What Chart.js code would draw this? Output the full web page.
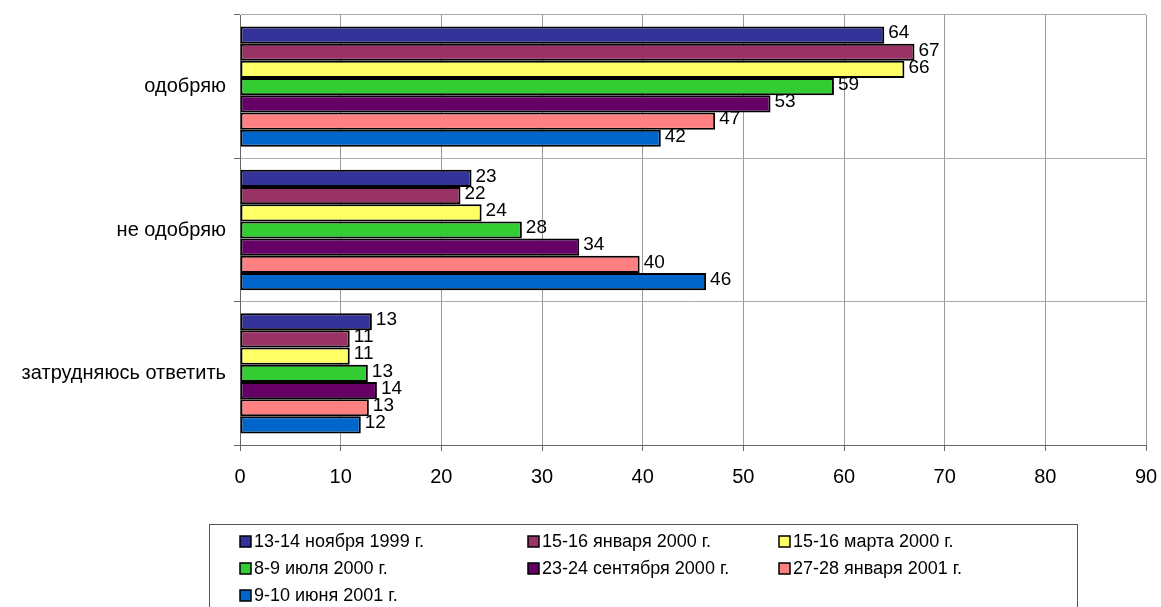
<!DOCTYPE html>
<html>
<head>
<meta charset="utf-8">
<script src="https://cdn.jsdelivr.net/npm/chart.js@4/dist/chart.umd.min.js"></script>
<style>
  html, body { margin: 0; padding: 0; background: #fff; }
  #wrap { width: 1161px; height: 607px; }
</style>
</head>
<body>
<div id="wrap"><canvas id="barChart" width="1161" height="607"></canvas></div>
<script>
var categories = ['одобряю', 'не одобряю', 'затрудняюсь ответить'];
var seriesNames = ['13-14 ноября 1999 г.', '15-16 января 2000 г.', '15-16 марта 2000 г.',
    '8-9 июля 2000 г.', '23-24 сентября 2000 г.', '27-28 января 2001 г.', '9-10 июня 2001 г.'];
var nov1999 = [64, 23, 13.1];
var jan2000 = [67, 21.9, 10.9];
var mar2000 = [66, 24, 10.9];
var jul2000 = [59, 28, 12.7];
var sep2000 = [52.7, 33.7, 13.6];
var jan2001 = [47.2, 39.7, 12.8];
var jun2001 = [41.8, 46.3, 12];
var xTicks = [0, 10, 20, 30, 40, 50, 60, 70, 80, 90];
var colors = ['#333399', '#993366', '#FFFF66', '#33CC33', '#660066', '#FF8080', '#0066CC'];

var allSeries = [nov1999, jan2000, mar2000, jul2000, sep2000, jan2001, jun2001];
var FONT = '"Liberation Sans", Arial, sans-serif';

// value labels to the right of every bar
var valueLabels = {
    id: 'valueLabels',
    afterDatasetsDraw: function(chart) {
        var ctx = chart.ctx;
        ctx.save();
        ctx.font = '19px ' + FONT;
        ctx.fillStyle = '#000';
        ctx.textAlign = 'left';
        ctx.textBaseline = 'middle';
        chart.data.datasets.forEach(function(ds, i) {
            chart.getDatasetMeta(i).data.forEach(function(bar, j) {
                ctx.fillText(Math.round(ds.data[j]), bar.x + 4, bar.y - 2);
            });
        });
        ctx.restore();
    }
};

// boxed legend in three columns under the chart
var boxLegend = {
    id: 'boxLegend',
    afterDraw: function(chart) {
        var ctx = chart.ctx;
        var cols = [240, 528, 779];
        ctx.save();
        ctx.strokeStyle = '#555';
        ctx.lineWidth = 1;
        ctx.strokeRect(209.5, 524.5, 868, 120);
        ctx.font = '18px ' + FONT;
        ctx.textBaseline = 'middle';
        chart.data.datasets.forEach(function(ds, i) {
            var x = cols[i % 3];
            var y = 542 + Math.floor(i / 3) * 27;
            ctx.fillStyle = ds.backgroundColor;
            ctx.fillRect(x, y - 6, 11, 11);
            ctx.strokeStyle = '#000';
            ctx.lineWidth = 1.5;
            ctx.strokeRect(x, y - 6, 11, 11);
            ctx.fillStyle = '#000';
            ctx.fillText(ds.label, x + 14, y);
        });
        ctx.restore();
    }
};

var ctx = document.getElementById('barChart').getContext('2d');

var myChart = new Chart(ctx, {
    type: 'bar',
    data: {
        labels: categories,
        datasets: allSeries.map(function(values, i) {
            return {
                label: seriesNames[i],
                data: values,
                backgroundColor: colors[i],
                borderColor: '#000',
                borderWidth: 2,
                borderSkipped: false,
                barPercentage: 1,
                categoryPercentage: 0.84
            };
        })
    },
    options: {
        indexAxis: 'y',
        responsive: false,
        animation: false,
        layout: { padding: { top: 15, right: 15, left: 0, bottom: 0 } },
        plugins: {
            legend: { display: false },
            tooltip: { enabled: false }
        },
        scales: {
            x: {
                min: 0,
                max: 90,
                afterBuildTicks: function(scale) {
                    scale.ticks = xTicks.map(function(v) { return { value: v }; });
                },
                afterFit: function(scale) {
                    scale.height = 162;
                    scale.paddingLeft = 0;
                    scale.paddingRight = 0;
                },
                grid: { color: '#999', tickLength: 6, tickColor: '#666' },
                border: { color: '#666' },
                ticks: { color: '#000', padding: 14, font: { family: FONT, size: 20 } }
            },
            y: {
                afterFit: function(scale) {
                    scale.width = 240;
                    scale.paddingTop = 0;
                    scale.paddingBottom = 0;
                },
                grid: { offset: true, color: '#aaa', tickLength: 6, tickColor: '#666' },
                border: { color: '#666' },
                ticks: { color: '#000', padding: 8, font: { family: FONT, size: 20 } }
            }
        }
    },
    plugins: [valueLabels, boxLegend]
});
</script>
</body>
</html>
